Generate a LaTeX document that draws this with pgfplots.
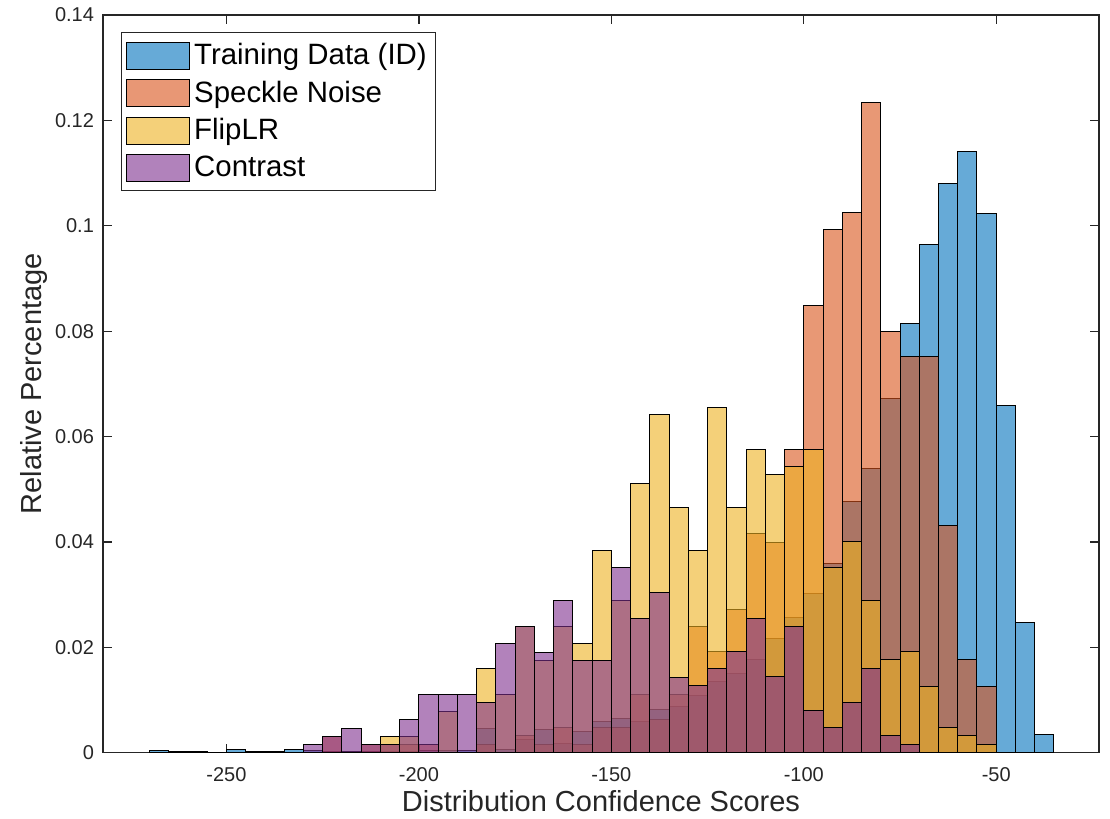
\documentclass[border=0pt]{standalone}
\usepackage{fontspec}
\setmainfont{Liberation Sans}
\usepackage{pgfplots}
\pgfplotsset{compat=1.18}
\definecolor{cB}{rgb}{0,0.447,0.741}
\definecolor{cO}{rgb}{0.85,0.325,0.098}
\definecolor{cY}{rgb}{0.929,0.694,0.125}
\definecolor{cP}{rgb}{0.494,0.184,0.556}
\definecolor{axgray}{rgb}{0.15,0.15,0.15}
\begin{document}
\begin{tikzpicture}
\begin{axis}[
  name=ax, at={(0,0)}, anchor=south west,
  scale only axis, width=498pt, height=368.85pt,
  xmin=-282.08, xmax=-23.3, ymin=0, ymax=0.14,
  xtick={-250,-200,-150,-100,-50}, xticklabels={-250,-200,-150,-100,-50},
  ytick={0,0.02,0.04,0.06,0.08,0.1,0.12,0.14},
  yticklabels={0,0.02,0.04,0.06,0.08,0.1,0.12,0.14},
  tick label style={font=\fontsize{10}{12}\selectfont, text=axgray},
  xticklabel style={yshift=-4pt},
  yticklabel style={xshift=-1pt},
  axis line style={draw=axgray, line width=0.6pt},
  major tick length=4.5pt,
  every tick/.style={draw=axgray, line width=0.6pt},
  xlabel={Distribution Confidence Scores}, ylabel={Relative Percentage},
  label style={font=\fontsize{14.5}{17}\selectfont, text=axgray},
  x label style={at={(axis description cs:0.5,-0.0651)}, anchor=center},
  y label style={at={(axis description cs:-0.0693,0.5)}, anchor=center},
  legend cell align=left,
  legend style={at={(axis description cs:0,1)}, anchor=north west, xshift=9pt, yshift=-8.5pt,
    draw=axgray, line width=0.5pt, fill=white, font=\fontsize{14.7}{17}\selectfont,
    row sep=2.6pt, inner xsep=2.5pt, inner ysep=3.5pt},
  legend image code/.code={\draw[#1, line width=0.5pt] (0pt,-6.75pt) rectangle (31.35pt,6.75pt);},
]
\addplot[ybar interval, fill=cB, fill opacity=0.6, draw=black, line width=0.5pt] coordinates {
(-270,0.0004) (-265,0.0002) (-260,0.0002) (-255,0) (-250,0.0006) (-245,0.0002) (-240,0.0002)
(-235,0.0007) (-230,0.0005) (-225,0.0002) (-220,0.0003) (-215,0.0002) (-210,0.0002) (-205,0.0003)
(-200,0.0004) (-195,0.0004) (-190,0.0004) (-185,0.0046) (-180,0.0007) (-175,0.0025) (-170,0.0044)
(-165,0.0018) (-160,0.0040) (-155,0.0060) (-150,0.0065) (-145,0.0059) (-140,0.0082) (-135,0.0087)
(-130,0.0108) (-125,0.0136) (-120,0.0150) (-115,0.0176) (-110,0.0217) (-105,0.0257) (-100,0.0302)
(-95,0.0360) (-90,0.0477) (-85,0.0539) (-80,0.0672) (-75,0.0814) (-70,0.0965) (-65,0.1080)
(-60,0.1140) (-55,0.1023) (-50,0.0658) (-45,0.0247) (-40,0.0035) (-35,0)
};
\addlegendentry{Training Data (ID)}
\addplot[ybar interval, fill=cO, fill opacity=0.6, draw=black, line width=0.5pt] coordinates {
(-230,0) (-225,0.0030) (-220,0) (-215,0.0015) (-210,0.0015) (-205,0.0015) (-200,0.0015)
(-195,0) (-190,0) (-185,0.0016) (-180,0) (-175,0.0032) (-170,0.0016) (-165,0.0048) (-160,0.0016)
(-155,0.0048) (-150,0.0048) (-145,0.0111) (-140,0.0063) (-135,0.0111) (-130,0.0239) (-125,0.0192)
(-120,0.0272) (-115,0.0416) (-110,0.0399) (-105,0.0576) (-100,0.0849) (-95,0.0993) (-90,0.1025)
(-85,0.1233) (-80,0.0800) (-75,0.0752) (-70,0.0752) (-65,0.0432) (-60,0.0176) (-55,0.0126) (-50,0)
};
\addlegendentry{Speckle Noise}
\addplot[ybar interval, fill=cY, fill opacity=0.6, draw=black, line width=0.5pt] coordinates {
(-210,0.0030) (-205,0.0030) (-200,0) (-195,0.0079) (-190,0) (-185,0.0159) (-180,0.0111)
(-175,0.0239) (-170,0.0175) (-165,0.0239) (-160,0.0207) (-155,0.0383) (-150,0.0288) (-145,0.0511)
(-140,0.0641) (-135,0.0465) (-130,0.0383) (-125,0.0656) (-120,0.0465) (-115,0.0576) (-110,0.0528)
(-105,0.0544) (-100,0.0576) (-95,0.0352) (-90,0.0400) (-85,0.0288) (-80,0.0176) (-75,0.0192)
(-70,0.0126) (-65,0.0048) (-60,0.0032) (-55,0.0016) (-50,0)
};
\addlegendentry{FlipLR}
\addplot[ybar interval, fill=cP, fill opacity=0.6, draw=black, line width=0.5pt] coordinates {
(-230,0.0015) (-225,0.0030) (-220,0.0046) (-215,0.0015) (-210,0.0015) (-205,0.0063) (-200,0.0111)
(-195,0.0111) (-190,0.0111) (-185,0.0095) (-180,0.0207) (-175,0.0239) (-170,0.0190) (-165,0.0288)
(-160,0.0175) (-155,0.0175) (-150,0.0352) (-145,0.0255) (-140,0.0304) (-135,0.0143) (-130,0.0127)
(-125,0.0159) (-120,0.0192) (-115,0.0255) (-110,0.0144) (-105,0.0239) (-100,0.0080) (-95,0.0048)
(-90,0.0095) (-85,0.0160) (-80,0.0032) (-75,0.0016) (-70,0)
};
\addlegendentry{Contrast}
\end{axis}
\pgfresetboundingbox
\path[use as bounding box] (-51.5pt,-33.15pt) rectangle (503.5pt,376.35pt);
\end{tikzpicture}
\end{document}
